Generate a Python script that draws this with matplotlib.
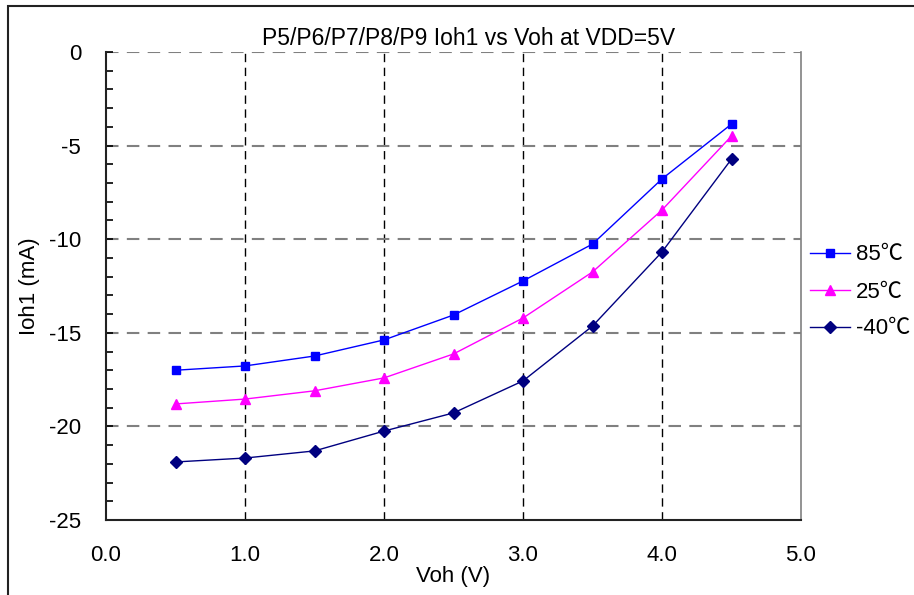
import matplotlib
matplotlib.use("Agg")
import matplotlib.pyplot as plt
from matplotlib.patches import Rectangle
from matplotlib.ticker import MultipleLocator

plt.rcParams['font.family'] = ['Liberation Sans', 'Noto Sans CJK SC', 'DejaVu Sans']

voh = [0.5, 1.0, 1.5, 2.0, 2.5, 3.0, 3.5, 4.0, 4.5]
ioh_85 = [-17.0, -16.77, -16.24, -15.38, -14.05, -12.23, -10.26, -6.78, -3.85]
ioh_25 = [-18.8, -18.54, -18.1, -17.41, -16.13, -14.21, -11.75, -8.44, -4.49]
ioh_m40 = [-21.9, -21.69, -21.31, -20.25, -19.28, -17.57, -14.64, -10.68, -5.72]
labels = ['85℃', '25℃', '-40℃']
title = 'P5/P6/P7/P8/P9 Ioh1 vs Voh at VDD=5V'
xticks = [0.0, 1.0, 2.0, 3.0, 4.0, 5.0]
yticks = [0, -5, -10, -15, -20, -25]

W, H = 914, 595
fig = plt.figure(figsize=(W / 100, H / 100), dpi=100)
ax = fig.add_axes([106/W, 1-520/H, (801-106)/W, (520-52)/H])

# outer frame
fig.patches.append(Rectangle((8/W, -0.1), 1.2, 1 - 6/H + 0.1, transform=fig.transFigure,
                             fill=False, edgecolor='#222222', linewidth=1.5))

ax.plot(voh, ioh_85, color='#0000FF', marker='s', markersize=6.3, linewidth=1.0, label=labels[0])
ax.plot(voh, ioh_25, color='#FF00FF', marker='^', markersize=7.5, linewidth=1.0, label=labels[1])
ax.plot(voh, ioh_m40, color='#000080', marker='D', markersize=6, linewidth=1.0, label=labels[2])

ax.set_xlim(0, 5)
ax.set_ylim(-25, 0)
ax.set_xticks(xticks)
ax.set_xticklabels([f'{v:.1f}' for v in xticks])
ax.set_yticks(yticks)
ax.set_yticklabels([str(v) for v in yticks])
ax.yaxis.set_minor_locator(MultipleLocator(1))

for x in xticks[1:-1]:
    ax.axvline(x, color='black', linestyle=(0, (6, 4)), linewidth=1.0, zorder=1)
for y in yticks[:-1]:
    ax.axhline(y, color='#808080', linestyle=(0, (6, 4)), linewidth=1.5, zorder=1)

ax.tick_params(axis='y', which='both', direction='in', length=5, width=1.2, pad=18, labelsize=16)
ax.tick_params(axis='x', which='both', length=0, pad=18, labelsize=16)

ax.spines['top'].set_visible(False)
ax.spines['right'].set_color('#808080')
ax.spines['right'].set_linewidth(1.2)
ax.spines['left'].set_color('#222222')
ax.spines['left'].set_linewidth(1.5)
ax.spines['bottom'].set_color('#222222')
ax.spines['bottom'].set_linewidth(1.5)

fig.text(469/W, 1-45/H, title, fontsize=16.5, ha='center', va='baseline')
ax.set_xlabel('Voh (V)', fontsize=16, labelpad=0)
ax.set_ylabel('Ioh1 (mA)', fontsize=16, labelpad=6)

ax.legend(loc='center left', bbox_to_anchor=(810/W, 1-292/H), bbox_transform=fig.transFigure,
          frameon=False, fontsize=16, borderpad=0, borderaxespad=0,
          handlelength=1.8, labelspacing=0.72, handletextpad=0.25)

fig.savefig('out.png', dpi=100)
